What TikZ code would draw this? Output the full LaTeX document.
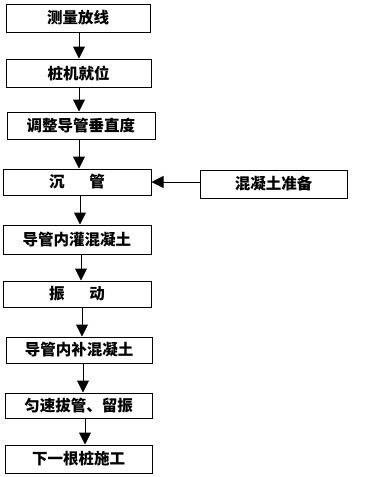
\documentclass[tikz,border=0pt]{standalone}
\usepackage{fontspec}
\newfontfamily\cjk{Noto Sans CJK SC}
\usetikzlibrary{arrows.meta}
\begin{document}
\begin{tikzpicture}[x=1pt,y=-1pt,
  stepbox/.style={draw=black,line width=1pt,inner sep=0pt,font=\cjk\bfseries\fontsize{15.5}{15.5}\selectfont,text=black},
  arr/.style={line width=1pt,-{Triangle[length=12pt,width=12pt]}}]
\useasboundingbox (0,0) rectangle (369,477);
\node[stepbox,minimum width=144pt,minimum height=28pt] (b1) at (78,18) {测量放线};
\node[stepbox,minimum width=145pt,minimum height=28pt] (b2) at (78.5,73) {桩机就位};
\node[stepbox,minimum width=148pt,minimum height=27pt] (b3) at (81,125.5) {调整导管垂直度};
\node[stepbox,minimum width=148pt,minimum height=26pt] (b4) at (77,182) {沉\hspace{1.6em}管};
\node[stepbox,minimum width=147pt,minimum height=28pt] (r) at (273.5,184) {混凝土准备};
\node[stepbox,minimum width=148pt,minimum height=29pt] (b5) at (77,239.5) {导管内灌混凝土};
\node[stepbox,minimum width=148pt,minimum height=26pt] (b6) at (77,294) {振\hspace{1.6em}动};
\node[stepbox,minimum width=146pt,minimum height=26pt] (b7) at (79,350) {导管内补混凝土};
\node[stepbox,minimum width=147pt,minimum height=25pt] (b8) at (78.5,405.5) {匀速拔管、留振};
\node[stepbox,minimum width=147pt,minimum height=28pt] (b9) at (78.5,459) {下一根桩施工};
\draw[arr] ([xshift=1pt]b1.south) -- ([xshift=1pt]b1.south |- b2.north);
\draw[arr] ([xshift=0.5pt]b2.south) -- ([xshift=0.5pt]b2.south |- b3.north);
\draw[arr] ([xshift=-2pt]b3.south) -- ([xshift=-2pt]b3.south |- b4.north);
\draw[arr] ([xshift=3pt]b4.south) -- ([xshift=3pt]b4.south |- b5.north);
\draw[arr] ([xshift=4pt]b5.south) -- ([xshift=4pt]b5.south |- b6.north);
\draw[arr] ([xshift=5pt]b6.south) -- ([xshift=5pt]b6.south |- b7.north);
\draw[arr] ([xshift=4pt]b7.south) -- ([xshift=4pt]b7.south |- b8.north);
\draw[arr] ([xshift=6.5pt]b8.south) -- ([xshift=6.5pt]b8.south |- b9.north);
\draw[arr] (r.west |- b4.east) -- (b4.east);
\end{tikzpicture}
\end{document}
